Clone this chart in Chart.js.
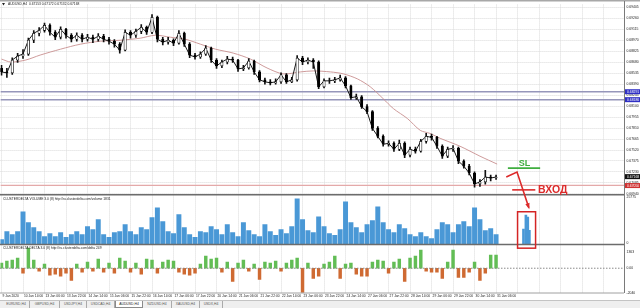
<!DOCTYPE html>
<html>
<head>
<meta charset="utf-8">
<script src="https://cdn.jsdelivr.net/npm/chart.js@4.4.1/dist/chart.umd.min.js"></script>
<style>
body { margin: 0; background: #fff; width: 640px; height: 308px; overflow: hidden; position: relative; font-family: "Liberation Sans", Arial, sans-serif; }
#wrap { position: absolute; left: 0; top: 0; width: 640px; height: 300px; }
#tabs { position: absolute; left: 0; top: 300px; width: 640px; height: 8px; background: #efefef; border-top: 1px solid #c4c4c4; box-sizing: border-box; }
.tab { position: absolute; top: 0; height: 7px; line-height: 7px; font-size: 3.4px; color: #555; text-align: center; border-right: 1px solid #aaa; box-sizing: border-box; }
.tab.on { background: #fff; border: 1px solid #8a8a8a; border-top: none; color: #222; }
</style>
</head>
<body>
<div id="wrap"><canvas id="chart" width="640" height="300"></canvas></div>
<div id="tabs"></div>
<script>
// time axis: one label every 4 bars
const tickLabels = ['9 Jan 2020', '10 Jan 14:00', '13 Jan 06:00', '13 Jan 22:00', '14 Jan 14:00', '15 Jan 06:00',
  '15 Jan 22:00', '16 Jan 14:00', '17 Jan 06:00', '17 Jan 22:00', '20 Jan 14:00', '21 Jan 06:00',
  '21 Jan 22:00', '22 Jan 14:00', '23 Jan 06:00', '23 Jan 22:00', '24 Jan 14:00', '27 Jan 06:00',
  '27 Jan 22:00', '28 Jan 14:00', '29 Jan 06:00', '29 Jan 22:00', '30 Jan 14:00', '31 Jan 06:00'];

// AUDUSD candles (open of a bar = close of the previous one)
const firstOpen = 0.68600;
const closes = [0.68553, 0.68540, 0.68710, 0.68763, 0.68789, 0.68972, 0.69064, 0.69103, 0.69169, 0.69077,
  0.69012, 0.69117, 0.69038, 0.68985, 0.69038, 0.68985, 0.69012, 0.68985, 0.69025, 0.68985,
  0.68959, 0.68920, 0.68841, 0.69077, 0.69038, 0.69090, 0.69143, 0.69077, 0.69274, 0.68985,
  0.68946, 0.68972, 0.68933, 0.69064, 0.68920, 0.68776, 0.68750, 0.68789, 0.68868, 0.68710,
  0.68632, 0.68684, 0.68723, 0.68710, 0.68592, 0.68605, 0.68697, 0.68553, 0.68448, 0.68422,
  0.68409, 0.68422, 0.68514, 0.68422, 0.68448, 0.68736, 0.68684, 0.68710, 0.68684, 0.68356,
  0.68435, 0.68435, 0.68448, 0.68474, 0.68369, 0.68212, 0.68225, 0.68094, 0.68028, 0.67806,
  0.67701, 0.67596, 0.67609, 0.67530, 0.67609, 0.67452, 0.67530, 0.67504, 0.67635, 0.67701,
  0.67688, 0.67570, 0.67439, 0.67530, 0.67543, 0.67373, 0.67307, 0.67216, 0.67071, 0.67098,
  0.67163, 0.67150, 0.67163];
const highs = [0.68640, 0.68600, 0.68740, 0.68800, 0.68850, 0.69000, 0.69100, 0.69140, 0.69200, 0.69190,
  0.69100, 0.69150, 0.69130, 0.69060, 0.69070, 0.69060, 0.69050, 0.69040, 0.69060, 0.69050,
  0.69010, 0.68980, 0.68940, 0.69110, 0.69100, 0.69120, 0.69180, 0.69160, 0.69310, 0.69290,
  0.69010, 0.69010, 0.68990, 0.69100, 0.69080, 0.68940, 0.68800, 0.68820, 0.68900, 0.68880,
  0.68730, 0.68710, 0.68760, 0.68750, 0.68720, 0.68640, 0.68730, 0.68710, 0.68570, 0.68470,
  0.68450, 0.68460, 0.68540, 0.68530, 0.68480, 0.68770, 0.68760, 0.68740, 0.68730, 0.68700,
  0.68460, 0.68470, 0.68480, 0.68510, 0.68490, 0.68380, 0.68260, 0.68240, 0.68120, 0.68040,
  0.67830, 0.67720, 0.67640, 0.67630, 0.67650, 0.67630, 0.67560, 0.67560, 0.67660, 0.67740,
  0.67730, 0.67700, 0.67590, 0.67560, 0.67580, 0.67560, 0.67390, 0.67330, 0.67230, 0.67130,
  0.67250, 0.67190, 0.67190];
const lows = [0.68510, 0.68480, 0.68520, 0.68680, 0.68730, 0.68770, 0.68940, 0.69030, 0.69080, 0.69040,
  0.68980, 0.68990, 0.69000, 0.68950, 0.68960, 0.68950, 0.68960, 0.68940, 0.68960, 0.68950,
  0.68920, 0.68880, 0.68800, 0.68830, 0.69000, 0.69010, 0.69060, 0.69050, 0.69060, 0.68950,
  0.68910, 0.68920, 0.68900, 0.68920, 0.68890, 0.68740, 0.68720, 0.68730, 0.68770, 0.68680,
  0.68600, 0.68610, 0.68660, 0.68680, 0.68560, 0.68570, 0.68590, 0.68520, 0.68420, 0.68390,
  0.68380, 0.68390, 0.68400, 0.68400, 0.68410, 0.68430, 0.68650, 0.68660, 0.68600, 0.68330,
  0.68340, 0.68400, 0.68410, 0.68430, 0.68340, 0.68190, 0.68190, 0.68070, 0.68000, 0.67780,
  0.67680, 0.67570, 0.67570, 0.67500, 0.67510, 0.67420, 0.67430, 0.67480, 0.67490, 0.67610,
  0.67650, 0.67540, 0.67410, 0.67420, 0.67500, 0.67340, 0.67280, 0.67190, 0.67030, 0.67040,
  0.67070, 0.67110, 0.67130];

// moving average, read as [bar, price]
const maPoints = [[0, 0.68723], [1.7, 0.68684], [4.5, 0.68710], [7.2, 0.68776], [11, 0.68854], [14.7, 0.68920],
  [18.4, 0.68959], [22.1, 0.68972], [25.8, 0.68999], [28.6, 0.69038], [31.4, 0.69012], [34.2, 0.68985],
  [37, 0.68920], [39.8, 0.68854], [43.1, 0.68802], [46.3, 0.68723], [49.4, 0.68605], [52.4, 0.68527],
  [55.6, 0.68553], [58, 0.68566], [61.2, 0.68553], [63.6, 0.68527], [66.2, 0.68461], [68.6, 0.68356],
  [71, 0.68199], [72.9, 0.68068], [75.5, 0.67937], [77.9, 0.67780], [79.7, 0.67740], [81.6, 0.67675],
  [85.3, 0.67570], [89, 0.67439], [92.2, 0.67334]];

const levelLines = [0.68291, 0.68186];
const redLevel = 0.67052;
const priceTicks = [0.69405, 0.69260, 0.69115, 0.68970, 0.68825, 0.68680, 0.68535, 0.68390, 0.68245,
  0.68100, 0.67955, 0.67810, 0.67665, 0.67520, 0.67375, 0.67230, 0.67085, 0.66940];
const blueTags = [0.68291, 0.68186];
const bidTag = 0.67168;
const redTag = 0.67050;

// ClusterDelta volume and delta histograms
const volumes = [2700, 7000, 5400, 7000, 17800, 11900, 9200, 7000, 4300, 5900,
  4300, 6500, 3800, 5400, 7000, 5400, 9700, 8100, 13500, 5400,
  3800, 6500, 7000, 10800, 7000, 5400, 9200, 8100, 14600, 20000,
  12400, 7000, 5900, 16200, 9200, 5400, 3800, 7000, 6500, 9700,
  8100, 5400, 10800, 6500, 4300, 11900, 7600, 5400, 4300, 10800,
  7000, 4900, 8100, 5900, 9700, 24800, 13500, 7600, 6500, 15100,
  9700, 5900, 4900, 8100, 23200, 11900, 9200, 6500, 10800, 13000,
  20500, 11900, 8100, 6500, 10800, 8600, 5400, 4300, 6500, 4300,
  3200, 8100, 11900, 10800, 6500, 10800, 12400, 9700, 20000, 13500,
  7600, 8600, 5400];
const boxVolumeBars = [97.1, 97.55, 97.9, 98.2];
const boxVolumes = [8300, 16000, 14900, 7700];
const deltas = [415, 581, 664, 830, -415, 1660, 664, -249, 332, -581,
  -498, -664, -415, -996, 332, -332, 498, -249, 747, -332,
  415, -415, 830, 581, -332, 415, -498, 747, 664, -415,
  498, 664, 581, -332, -498, -581, -415, 332, 996, 747,
  830, -332, 498, -1079, 415, 664, -249, 332, -913, 498,
  415, 581, -249, 415, 664, 830, -1992, 415, -830, -664,
  332, 498, 996, -830, 332, 415, -498, -664, -664, 498,
  664, 581, -415, 498, 747, -1079, 830, 996, 1494, -249,
  -332, -332, -830, 498, 1494, -747, -747, -332, 498, -996,
  -415, 1079, 1079];

// hand-drawn trade marks, in [bar, price] / [bar, volume]
const slLine = [94.2, 100.2, 0.67281];
const slText = [97.3, 0.67307];
const entryLine = [95.0, 99.3, 0.66993];
const entryText = [99.8, 0.66993];
const arrowPath = [[93.9, 0.67163], [95.9, 0.67229], [98.1, 0.66757]];
const boxBars = [96.0, 99.35];
const boxVol = [17800, -2040];

const tabNames = ['EURUSD,H4', 'GBPUSD,H4', 'USDJPY,H4', 'USDCAD,H4', 'AUDUSD,H4', 'NZDUSD,H4', 'XAUUSD,H4', 'USDX,H4'];
const tabEdges = [3, 30, 60, 87, 115, 143, 172, 200, 223];

const FONT = '"Liberation Sans", Arial, sans-serif';
const gridColor = '#dadada';

const tabs = document.getElementById('tabs');
tabNames.forEach((n, i) => {
  const d = document.createElement('div');
  d.className = 'tab' + (n === 'AUDUSD,H4' ? ' on' : '');
  d.style.left = tabEdges[i] + 'px';
  d.style.width = (tabEdges[i + 1] - tabEdges[i]) + 'px';
  d.textContent = n;
  tabs.appendChild(d);
});

let prev = firstOpen;
const opens = closes.map(c => { const o = prev; prev = c; return o; });
const bodies = closes.map((c, i) => ({ x: i, y: [opens[i], c] }));
const wicks = closes.map((c, i) => ({ x: i, y: [lows[i], highs[i]] }));

const paneDecor = {
  id: 'paneDecor',
  afterDraw(chart) {
    const { ctx, chartArea: a, scales: { x, y, yv, yd } } = chart;
    ctx.save();
    const hline = (yy, color, w, x0 = 0, x1 = a.right) => {
      ctx.strokeStyle = color; ctx.lineWidth = w;
      ctx.beginPath(); ctx.moveTo(x0, yy); ctx.lineTo(x1, yy); ctx.stroke();
    };
    // pane frames
    hline(0.75, '#a8a8a8', 1.5, 0, 640);
    hline(y.bottom, '#6c6c6c', 1.5);
    hline(yv.bottom, '#6c6c6c', 1.5);
    hline(yd.bottom, '#a0a0a0', 1);
    ctx.strokeStyle = '#7a7a7a'; ctx.lineWidth = 1;
    ctx.beginPath(); ctx.moveTo(a.right + 0.5, 1); ctx.lineTo(a.right + 0.5, yd.bottom); ctx.stroke();
    ctx.setLineDash([1.5, 1.5]);
    hline(yd.getPixelForValue(0), '#8a8a8a', 1);
    ctx.setLineDash([]);

    // coloured price tags on the right axis
    const tag = (v, txt, bg) => {
      const py = y.getPixelForValue(v);
      ctx.fillStyle = bg;
      ctx.fillRect(a.right + 1, py - 2.5, 640 - a.right - 1, 5);
      ctx.fillStyle = '#fff';
      ctx.font = '3.4px ' + FONT;
      ctx.textBaseline = 'middle'; ctx.textAlign = 'left';
      ctx.fillText(txt, a.right + 3, py);
    };
    blueTags.forEach(v => tag(v, v.toFixed(5), '#2f2fc4'));
    tag(bidTag, bidTag.toFixed(5), '#111');
    tag(redTag, redTag.toFixed(5), '#d03232');

    // indicator captions
    ctx.fillStyle = '#222';
    ctx.font = '3.3px ' + FONT;
    ctx.textAlign = 'left'; ctx.textBaseline = 'middle';
    ctx.fillText('AUDUSD,H4  0.67153 0.67172 0.67132 0.67168', 8, 4.5);
    ctx.fillText('CLUSTERDELTA VOLUME 3.0 (8) http://ru.clusterdelta.com/volume 1831', 3, yv.top + 4);
    ctx.fillText('CLUSTERDELTA DELTA 3.0 (8) http://ru.clusterdelta.com/delta 249', 3, yd.top + 4);
    ctx.beginPath(); ctx.moveTo(2, 3); ctx.lineTo(5, 3); ctx.lineTo(3.5, 5.5); ctx.closePath(); ctx.fill();

    // SL mark
    const slY = y.getPixelForValue(slLine[2]);
    hline(slY, '#3fae3f', 1.6, x.getPixelForValue(slLine[0]), x.getPixelForValue(slLine[1]));
    ctx.fillStyle = '#3fae3f';
    ctx.font = 'bold 9px ' + FONT;
    ctx.textAlign = 'center'; ctx.textBaseline = 'alphabetic';
    ctx.fillText('SL', x.getPixelForValue(slText[0]), y.getPixelForValue(slText[1]));

    // entry mark
    const red = '#dc2a2a';
    hline(y.getPixelForValue(entryLine[2]), red, 1.6, x.getPixelForValue(entryLine[0]), x.getPixelForValue(entryLine[1]));
    ctx.fillStyle = red;
    ctx.font = 'bold 10.5px ' + FONT;
    ctx.textAlign = 'left'; ctx.textBaseline = 'middle';
    ctx.fillText('ВХОД', x.getPixelForValue(entryText[0]), y.getPixelForValue(entryText[1]) + 0.5);

    // arrow
    const pts = arrowPath.map(p => [x.getPixelForValue(p[0]), y.getPixelForValue(p[1])]);
    ctx.strokeStyle = red; ctx.lineWidth = 1.6;
    ctx.beginPath();
    pts.forEach((p, i) => i ? ctx.lineTo(p[0], p[1]) : ctx.moveTo(p[0], p[1]));
    ctx.stroke();
    const [ex, ey] = pts[pts.length - 1];
    const [sx, sy] = pts[pts.length - 2];
    const ang = Math.atan2(ey - sy, ex - sx);
    ctx.beginPath();
    ctx.moveTo(ex + 1.5 * Math.cos(ang), ey + 1.5 * Math.sin(ang));
    ctx.lineTo(ex - 5 * Math.cos(ang - 0.45), ey - 5 * Math.sin(ang - 0.45));
    ctx.lineTo(ex - 5 * Math.cos(ang + 0.45), ey - 5 * Math.sin(ang + 0.45));
    ctx.closePath(); ctx.fill();

    // red box around the volume burst
    const bx0 = x.getPixelForValue(boxBars[0]), bx1 = x.getPixelForValue(boxBars[1]);
    const by0 = yv.getPixelForValue(boxVol[0]), by1 = yv.getPixelForValue(boxVol[1]);
    ctx.strokeStyle = '#d42424'; ctx.lineWidth = 1.5;
    ctx.strokeRect(bx0, by0, bx1 - bx0, by1 - by0);
    ctx.restore();
  }
};

const flat = v => [{ x: -0.2, y: v }, { x: 115.8, y: v }];

new Chart(document.getElementById('chart'), {
  type: 'bar',
  data: {
    datasets: [
      { type: 'line', data: flat(levelLines[0]), borderColor: '#9696ba', borderWidth: 1.5, pointRadius: 0, yAxisID: 'y', order: 9 },
      { type: 'line', data: flat(levelLines[1]), borderColor: '#9696ba', borderWidth: 1.5, pointRadius: 0, yAxisID: 'y', order: 9 },
      { type: 'line', data: flat(redLevel), borderColor: '#e4a9a9', borderWidth: 1.2, pointRadius: 0, yAxisID: 'y', order: 9 },
      { type: 'line', data: maPoints.map(p => ({ x: p[0], y: p[1] })),
        borderColor: '#c89090', borderWidth: 0.9, pointRadius: 0, tension: 0.3, yAxisID: 'y', order: 8 },
      { type: 'line', data: closes.map((c, i) => ({ x: i, y: c })),
        borderColor: '#1a1a1a', borderWidth: 1, pointRadius: 0, yAxisID: 'y', order: 3 },
      { data: wicks, backgroundColor: '#111', barThickness: 1, grouped: false, yAxisID: 'y', order: 2 },
      { data: bodies, yAxisID: 'y', order: 1, grouped: false, barThickness: 2.4,
        backgroundColor: bodies.map(b => b.y[1] >= b.y[0] ? '#fff' : '#000'),
        borderColor: '#000', borderWidth: 0.7, borderSkipped: false },
      { data: volumes.map((v, i) => ({ x: i, y: v })), backgroundColor: '#4a98d6',
        barThickness: 4.3, grouped: false, yAxisID: 'yv', order: 4 },
      { data: boxVolumes.map((v, i) => ({ x: boxVolumeBars[i], y: v })), backgroundColor: '#4a98d6',
        barThickness: 2, grouped: false, yAxisID: 'yv', order: 4 },
      { data: deltas.map((v, i) => ({ x: i, y: v })),
        backgroundColor: deltas.map(v => v >= 0 ? '#62bd55' : '#cf6a32'),
        barThickness: 2.8, grouped: false, yAxisID: 'yd', order: 4 }
    ]
  },
  options: {
    responsive: false,
    animation: false,
    layout: { padding: { top: 2, left: 0, right: 0, bottom: 0 }, autoPadding: false },
    plugins: { legend: { display: false }, tooltip: { enabled: false } },
    scales: {
      x: {
        type: 'linear', min: -0.2, max: 115.8, offset: false, bounds: 'data',
        grid: { color: gridColor, offset: false, drawTicks: false },
        border: { display: false, dash: [1, 1] },
        afterBuildTicks: s => { s.ticks = Array.from({ length: 29 }, (_, k) => ({ value: k * 4 })); },
        afterFit: s => { s.height = 7; },
        ticks: {
          autoSkip: false, maxRotation: 0, align: 'start', padding: 1.5, labelOffset: 1,
          font: { size: 3.3, family: FONT }, color: '#222',
          callback: v => tickLabels[v / 4] || ''
        }
      },
      y: {
        position: 'right', stack: 'pane', stackWeight: 192, min: 0.66927, max: 0.69444, bounds: 'data',
        grid: { color: gridColor, drawTicks: false },
        border: { display: false, dash: [1, 1] },
        afterBuildTicks: s => { s.ticks = priceTicks.map(v => ({ value: v })); },
        afterFit: s => { s.width = 16; },
        ticks: { autoSkip: false, padding: 2.5, font: { size: 3.4, family: FONT }, color: '#222',
          callback: v => v.toFixed(5) }
      },
      yv: {
        position: 'right', stack: 'pane', stackWeight: 50, min: 0, max: 27000, bounds: 'data',
        grid: { display: false, drawTicks: false }, border: { display: false },
        afterBuildTicks: s => { s.ticks = [{ value: 25775 }, { value: 700 }]; },
        afterFit: s => { s.width = 16; },
        ticks: { autoSkip: false, padding: 2.5, font: { size: 3.4, family: FONT }, color: '#222',
          callback: v => v === 700 ? '0' : String(v) }
      },
      yd: {
        position: 'right', stack: 'pane', stackWeight: 49, min: -2040, max: 1960, bounds: 'data',
        grid: { display: false, drawTicks: false }, border: { display: false },
        afterBuildTicks: s => { s.ticks = [{ value: 1363 }, { value: 0 }, { value: -2040 }]; },
        afterFit: s => { s.width = 16; },
        ticks: { autoSkip: false, padding: 2.5, font: { size: 3.4, family: FONT }, color: '#222',
          callback: v => v === 0 ? '0.00' : String(v) }
      }
    }
  },
  plugins: [paneDecor]
});
</script>
</body>
</html>
